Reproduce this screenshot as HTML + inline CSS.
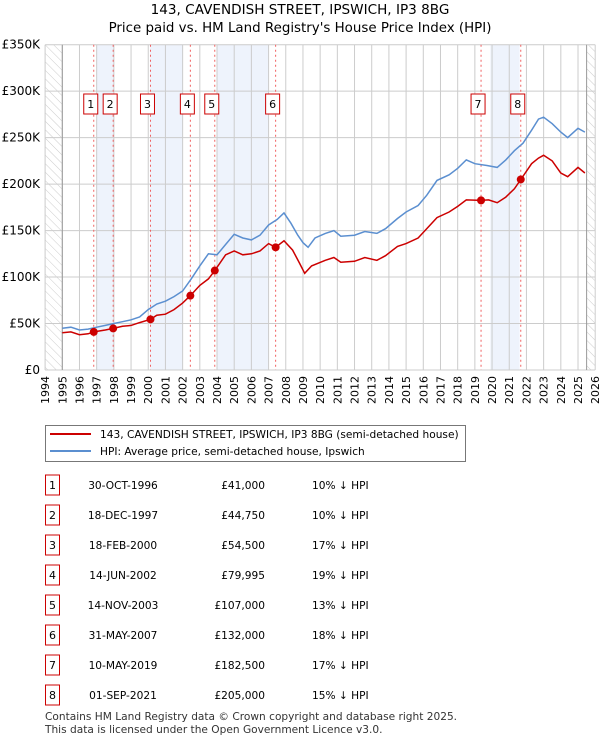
<!DOCTYPE html>
<html><head><meta charset="utf-8"><style>
body{margin:0;background:#fff;width:600px;height:740px;overflow:hidden;font-family:"DejaVu Sans","Liberation Sans",sans-serif}
svg text{font-family:"DejaVu Sans","Liberation Sans",sans-serif}
</style></head><body>
<svg id="c" width="600" height="740" xmlns="http://www.w3.org/2000/svg">
<defs><pattern id="hatch" patternUnits="userSpaceOnUse" width="6" height="6" patternTransform="rotate(-45)"><line x1="0" y1="0" x2="0" y2="6" stroke="#ccc" stroke-width="1"/></pattern></defs>
<text x="300" y="14" text-anchor="middle" font-size="13.6" fill="#000">143, CAVENDISH STREET, IPSWICH, IP3 8BG</text>
<text x="300" y="32" text-anchor="middle" font-size="13.4" fill="#000">Price paid vs. HM Land Registry's House Price Index (HPI)</text>
<g id="plot"></g>
<g>
<rect x="45.5" y="425.5" width="420" height="36" fill="#fff" stroke="#777"/>
<line x1="50" y1="434" x2="91" y2="434" stroke="#cc0000" stroke-width="2"/>
<text x="100" y="438" font-size="10.6">143, CAVENDISH STREET, IPSWICH, IP3 8BG (semi-detached house)</text>
<line x1="50" y1="451" x2="91" y2="451" stroke="#5b8fd0" stroke-width="2"/>
<text x="100" y="455" font-size="10.6">HPI: Average price, semi-detached house, Ipswich</text>
</g>
<g id="tbl"></g>
<text x="45" y="720" font-size="10.6" fill="#333">Contains HM Land Registry data © Crown copyright and database right 2025.</text>
<text x="45" y="733" font-size="10.6" fill="#333">This data is licensed under the Open Government Licence v3.0.</text>
</svg>
<script>
const hpiYears=[1995,1995.5,1996,1996.5,1997,1997.5,1998,1998.5,1999,1999.5,2000,2000.5,2001,2001.5,2002,2002.5,2003,2003.5,2004,2004.5,2005,2005.5,2006,2006.5,2007,2007.5,2007.9,2008.3,2008.7,2009.0,2009.3,2009.7,2010.3,2010.8,2011.2,2012,2012.6,2013.3,2013.8,2014.5,2015,2015.7,2016.2,2016.8,2017.5,2018,2018.5,2019,2019.7,2020.3,2020.8,2021.3,2021.8,2022.3,2022.7,2023.0,2023.5,2024,2024.4,2025,2025.4];
const hpiValues=[45,46,43,44,46,48,50,52,54,57,65,71,74,79,85,98,112,125,124,135,146,142,140,145,156,162,169,158,145,137,132,142,147,150,144,145,149,147,152,163,170,177,188,204,210,217,226,222,220,218,226,236,244,258,270,272,265,256,250,260,256];
const propYears=[1995,1995.5,1996,1996.5,1996.83,1997.5,1997.96,1998.5,1999,1999.5,2000.13,2000.5,2001,2001.5,2002,2002.45,2003,2003.5,2003.87,2004.5,2005,2005.5,2006,2006.5,2007,2007.41,2007.9,2008.4,2008.8,2009.1,2009.5,2010.3,2010.8,2011.2,2012,2012.6,2013.3,2013.8,2014.5,2015,2015.7,2016.2,2016.8,2017.5,2018,2018.5,2019.36,2019.8,2020.3,2020.8,2021.3,2021.67,2022.3,2022.7,2023,2023.5,2024,2024.4,2025,2025.4];
const propValues=[40,41,38,39,41,43,44.75,47,48,51,54.5,59,60,65,72,80,91,98,107,124,128,124,125,128,136,132,139,129,115,104,112,118,121,116,117,121,118,123,133,136,142,152,164,170,176,183,182.5,183,180,186,195,205,222,228,231,225,212,208,218,212];
const saleYears=[1996.83,1997.96,2000.13,2002.45,2003.87,2007.41,2019.36,2021.67];
const salePrices=[41000,44750,54500,79995,107000,132000,182500,205000];
const saleDates=["30-OCT-1996","18-DEC-1997","18-FEB-2000","14-JUN-2002","14-NOV-2003","31-MAY-2007","10-MAY-2019","01-SEP-2021"];
const salePriceLabels=["£41,000","£44,750","£54,500","£79,995","£107,000","£132,000","£182,500","£205,000"];
const saleHpiLabels=["10% ↓ HPI","10% ↓ HPI","17% ↓ HPI","19% ↓ HPI","13% ↓ HPI","18% ↓ HPI","17% ↓ HPI","15% ↓ HPI"];
const shadeRanges=[[1997.0,1998.0],[2000.1,2002.0],[2004.0,2007.0],[2019.9,2021.6]];
const yTicks=[0,50,100,150,200,250,300,350];
const yTickLabels=["£0","£50K","£100K","£150K","£200K","£250K","£300K","£350K"];

const NS="http://www.w3.org/2000/svg";
const L=45.1,R=595.2,T=44.7,B=370;
const X=y=>L+(y-1994)*(R-L)/32;
const Y=v=>B-v*(B-T)/350;
function mk(tag,attrs,parent){const e=document.createElementNS(NS,tag);for(const k in attrs)e.setAttribute(k,attrs[k]);parent.appendChild(e);return e;}
const P=document.getElementById('plot');
shadeRanges.forEach(r=>{const e=mk('rect',{x:X(r[0]),y:T,width:X(r[1])-X(r[0]),height:B-T,fill:'#eef3fc'},P);

});
let h1=mk('rect',{x:L,y:T,width:X(1995)-L,height:B-T,fill:'url(#hatch)'},P);


let h2=mk('rect',{x:X(2025.5),y:T,width:R-X(2025.5),height:B-T,fill:'url(#hatch)'},P);


for(let yr=1994;yr<=2026;yr++){const g=mk('line',{x1:X(yr),x2:X(yr),y1:T,y2:B,stroke:'#ccc','stroke-width':1},P);


const t=mk('text',{x:0,y:0,'font-size':11,'text-anchor':'end',transform:`translate(${X(yr)+4},${B+6}) rotate(-90)`},P);t.textContent=yr;

}
yTicks.forEach((v,i)=>{const g=mk('line',{x1:L,x2:R,y1:Y(v),y2:Y(v),stroke:'#ccc','stroke-width':1},P);


const t=mk('text',{x:40,y:Y(v)+4,'font-size':12,'text-anchor':'end'},P);t.textContent=yTickLabels[i];

});
mk('line',{x1:X(1995),x2:X(1995),y1:T,y2:B,stroke:'#999'},P);
mk('line',{x1:X(2025.5),x2:X(2025.5),y1:T,y2:B,stroke:'#999'},P);
saleYears.forEach(s=>{const e=mk('line',{x1:X(s),x2:X(s),y1:T,y2:B,stroke:'#f06060','stroke-width':1,'stroke-dasharray':'2,3'},P);

});
function path(xs,vs){return xs.map((x,i)=>(i?'L':'M')+X(x).toFixed(1)+','+Y(vs[i]).toFixed(1)).join('');}
const hp=mk('path',{d:path(hpiYears,hpiValues),fill:'none',stroke:'#5b8fd0','stroke-width':1.5},P);


const pp=mk('path',{d:path(propYears,propValues),fill:'none',stroke:'#cc0000','stroke-width':1.5},P);


saleYears.forEach((s,i)=>{const c=mk('circle',{cx:X(s),cy:Y(salePrices[i]/1000),r:4,fill:'#cc0000'},P);


const bx=X(s)-3;
const b=mk('rect',{x:bx-7,y:94,width:14,height:20,fill:'#fff',stroke:'#cc0000'},P);


const t=mk('text',{x:bx,y:108,'font-size':11,'text-anchor':'middle'},P);t.textContent=i+1;

});
const TB=document.getElementById('tbl');
saleDates.forEach((d,i)=>{const y=485+i*30;
const b=mk('rect',{x:45.5,y:y-10,width:14,height:20,fill:'#fff',stroke:'#cc0000'},TB);


const n=mk('text',{x:52.5,y:y+4,'font-size':11,'text-anchor':'middle'},TB);n.textContent=i+1;


const a=mk('text',{x:123,y:y+4,'font-size':10.6,'text-anchor':'middle'},TB);a.textContent=d;


const p=mk('text',{x:265,y:y+4,'font-size':10.6,'text-anchor':'end'},TB);p.textContent=salePriceLabels[i];


const hh=mk('text',{x:312,y:y+4,'font-size':10.6},TB);hh.textContent=saleHpiLabels[i];

});
</script>
</body></html>
